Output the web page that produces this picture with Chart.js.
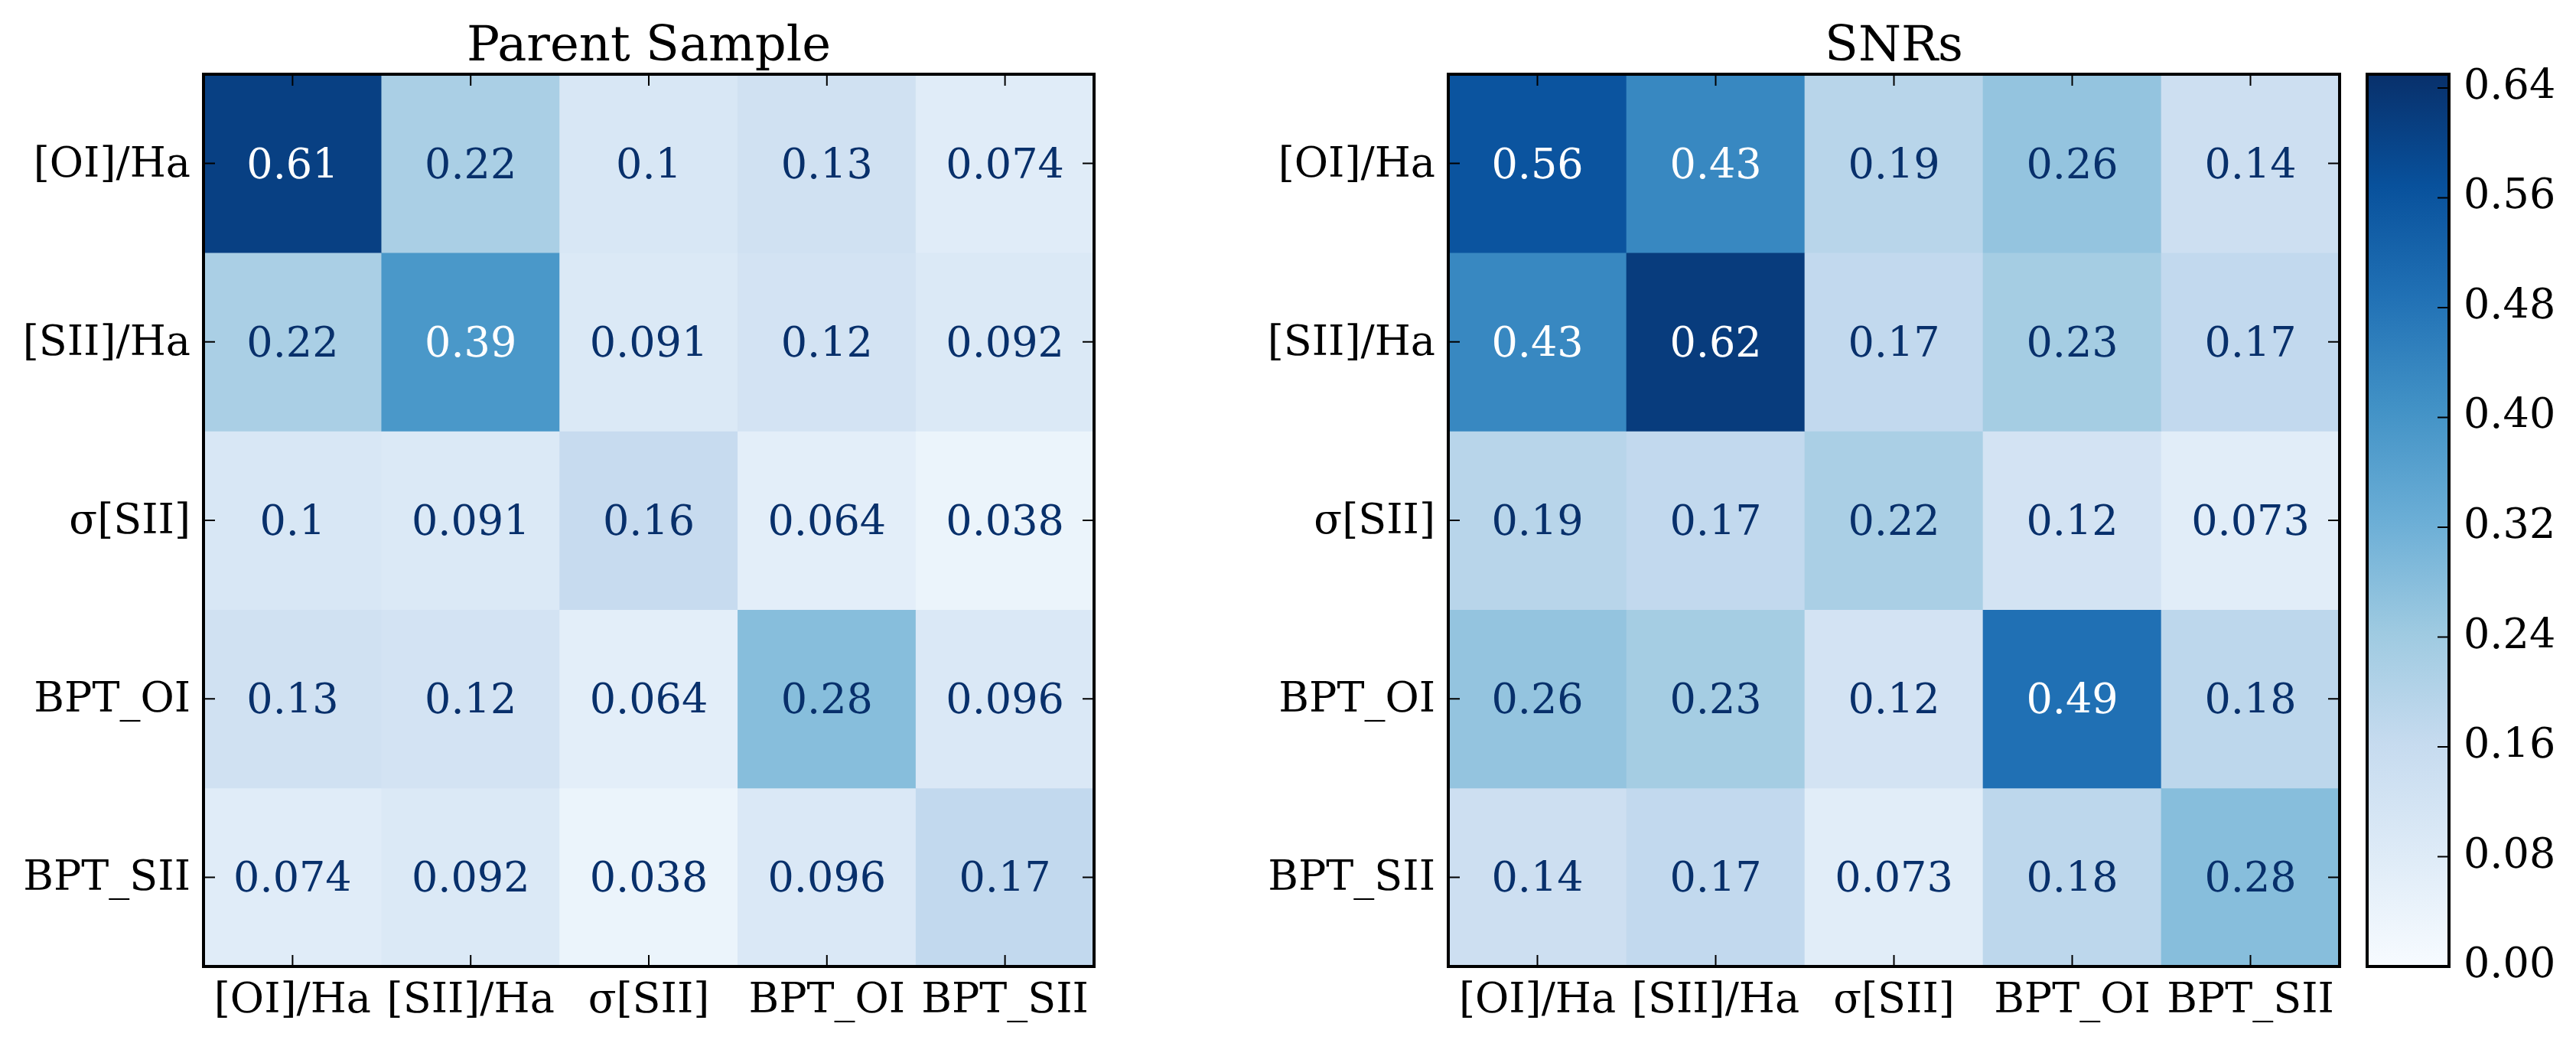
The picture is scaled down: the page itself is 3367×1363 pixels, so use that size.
<!DOCTYPE html>
<html>
<head>
<meta charset="utf-8">
<script src="https://cdn.jsdelivr.net/npm/chart.js@4.4.1/dist/chart.umd.min.js"></script>
<style>
  body { margin: 0; background: #fff; }
  #wrap { position: relative; width: 3367px; height: 1363px; background: #fff; }
  .box { position: absolute; top: 0; height: 1363px; }
</style>
</head>
<body>
<div id="wrap">
  <div class="box" style="left:0px;width:1696px"><canvas id="grafica1"></canvas></div>
  <div class="box" style="left:1600px;width:1751px"><canvas id="grafica2"></canvas></div>
  <div class="box" style="left:3000px;width:367px"><canvas id="barra"></canvas></div>
</div>
<script>
// etiquetas de filas y columnas
var etiquetas = ['[OI]/Ha', '[SII]/Ha', 'σ[SII]', 'BPT_OI', 'BPT_SII'];

// valores de la muestra padre
var padre0 = [0.61, 0.22, 0.1, 0.13, 0.074];
var padre1 = [0.22, 0.39, 0.091, 0.12, 0.092];
var padre2 = [0.1, 0.091, 0.16, 0.064, 0.038];
var padre3 = [0.13, 0.12, 0.064, 0.28, 0.096];
var padre4 = [0.074, 0.092, 0.038, 0.096, 0.17];

// valores de los SNRs
var snr0 = [0.56, 0.43, 0.19, 0.26, 0.14];
var snr1 = [0.43, 0.62, 0.17, 0.23, 0.17];
var snr2 = [0.19, 0.17, 0.22, 0.12, 0.073];
var snr3 = [0.26, 0.23, 0.12, 0.49, 0.18];
var snr4 = [0.14, 0.17, 0.073, 0.18, 0.28];

// barra de color
var vmin = 0, vmax = 0.65;
var ticksBarra = [0, 0.08, 0.16, 0.24, 0.32, 0.40, 0.48, 0.56, 0.64];

var fuente = "'DejaVu Serif', serif";
var azules = ['#f7fbff', '#deebf7', '#c6dbef', '#9ecae1', '#6baed6', '#4292c6', '#2171b5', '#08519c', '#08306b'];

function hexRgb(h) {
    return [parseInt(h.substr(1, 2), 16), parseInt(h.substr(3, 2), 16), parseInt(h.substr(5, 2), 16)];
}

function colorAzul(v) {
    var t = (v - vmin) / (vmax - vmin);
    t = Math.max(0, Math.min(1, t));
    var s = t * 8;
    var i = Math.min(7, Math.floor(s));
    var f = s - i;
    var a = hexRgb(azules[i]), b = hexRgb(azules[i + 1]);
    return 'rgb(' + Math.round(a[0] + (b[0] - a[0]) * f) + ',' + Math.round(a[1] + (b[1] - a[1]) * f) + ',' + Math.round(a[2] + (b[2] - a[2]) * f) + ')';
}

// marco negro y ticks hacia adentro en los cuatro lados
var marco = {
    id: 'marco',
    afterDatasetsDraw: function(chart, args, opts) {
        var ctx = chart.ctx, a = chart.chartArea, len = 15;
        ctx.save();
        ctx.strokeStyle = '#000';
        ctx.lineWidth = 2;
        ctx.beginPath();
        if (opts.ejes) {
            var sx = chart.scales.x;
            sx.ticks.forEach(function(t, i) {
                var px = sx.getPixelForTick(i);
                ctx.moveTo(px, a.top); ctx.lineTo(px, a.top + len);
                ctx.moveTo(px, a.bottom); ctx.lineTo(px, a.bottom - len);
            });
        }
        var sy = chart.scales.y;
        sy.ticks.forEach(function(t) {
            var py = sy.getPixelForValue(t.value);
            if (opts.ejes) { ctx.moveTo(a.left, py); ctx.lineTo(a.left + len, py); }
            ctx.moveTo(a.right, py); ctx.lineTo(a.right - len, py);
        });
        ctx.stroke();
        ctx.lineWidth = 4;
        ctx.strokeRect(a.left, a.top, a.right - a.left, a.bottom - a.top);
        ctx.restore();
    }
};

// numeros dentro de cada celda
var textoCeldas = {
    id: 'textoCeldas',
    afterDatasetsDraw: function(chart) {
        var ctx = chart.ctx;
        ctx.save();
        ctx.font = '54px ' + fuente;
        ctx.textAlign = 'center';
        ctx.textBaseline = 'alphabetic';
        chart.data.datasets.forEach(function(ds, i) {
            if (!ds.valores) return;
            chart.getDatasetMeta(i).data.forEach(function(el, j) {
                var p = el.getCenterPoint();
                var v = ds.valores[j];
                ctx.fillStyle = (v - vmin) / (vmax - vmin) > 0.5 ? '#ffffff' : '#08306b';
                ctx.fillText(String(v), p.x, p.y + 19);
            });
        });
        ctx.restore();
    }
};

function matriz(id, titulo, filas, ancho) {
    var datasets = filas.map(function(fila, i) {
        return {
            label: etiquetas[i],
            valores: fila,
            data: fila.map(function() { return [i - 0.5, i + 0.5]; }),
            backgroundColor: fila.map(colorAzul),
            borderWidth: 0,
            barPercentage: 1,
            categoryPercentage: 1,
            grouped: false
        };
    });

    return new Chart(document.getElementById(id).getContext('2d'), {
        type: 'bar',
        data: { labels: etiquetas, datasets: datasets },
        plugins: [textoCeldas, marco],
        options: {
            responsive: true,
            maintainAspectRatio: false,
            devicePixelRatio: 1,
            animation: false,
            layout: { padding: 0 },
            plugins: {
                legend: { display: false },
                tooltip: { enabled: false },
                title: {
                    display: true,
                    text: titulo,
                    color: '#000',
                    font: { family: fuente, size: 64, weight: 'normal', lineHeight: 1 },
                    padding: { top: 30, bottom: 3 }
                },
                marco: { ejes: true }
            },
            scales: {
                x: {
                    grid: { display: false, drawTicks: false },
                    border: { display: false },
                    ticks: { color: '#000', font: { family: fuente, size: 54 }, padding: 14, maxRotation: 0, autoSkip: false },
                    afterFit: function(s) { s.height = 100; }
                },
                y: {
                    type: 'linear',
                    min: -0.5,
                    max: 4.5,
                    reverse: true,
                    grid: { display: false, drawTicks: false },
                    border: { display: false },
                    afterBuildTicks: function(s) { s.ticks = [0, 1, 2, 3, 4].map(function(v) { return { value: v }; }); },
                    ticks: {
                        color: '#000',
                        font: { family: fuente, size: 54 },
                        padding: 17,
                        labelOffset: 3,
                        autoSkip: false,
                        callback: function(v) { return etiquetas[v]; }
                    },
                    afterFit: function(s) { s.width = ancho; }
                },
                // eje derecho vacio, solo para centrar el titulo sobre la matriz
                y2: {
                    type: 'linear',
                    position: 'right',
                    min: -0.5,
                    max: 4.5,
                    grid: { display: false, drawTicks: false },
                    border: { display: false },
                    ticks: { display: false },
                    afterFit: function(s) { s.width = ancho; }
                }
            }
        }
    });
}

matriz('grafica1', 'Parent Sample', [padre0, padre1, padre2, padre3, padre4], 266);
matriz('grafica2', 'SNRs', [snr0, snr1, snr2, snr3, snr4], 293);

// barra de color
new Chart(document.getElementById('barra').getContext('2d'), {
    type: 'bar',
    data: {
        labels: [''],
        datasets: [{
            data: [[vmin, vmax]],
            borderWidth: 0,
            barPercentage: 1,
            categoryPercentage: 1,
            backgroundColor: function(c) {
                var a = c.chart.chartArea;
                if (!a) return azules[4];
                var g = c.chart.ctx.createLinearGradient(0, a.bottom, 0, a.top);
                azules.forEach(function(col, i) { g.addColorStop(i / 8, col); });
                return g;
            }
        }]
    },
    plugins: [marco],
    options: {
        responsive: true,
        maintainAspectRatio: false,
        devicePixelRatio: 1,
        animation: false,
        layout: { padding: { left: 94, right: 0, top: 97, bottom: 100 } },
        plugins: {
            legend: { display: false },
            tooltip: { enabled: false },
            marco: { ejes: false }
        },
        scales: {
            x: { display: false },
            y: {
                position: 'right',
                min: vmin,
                max: vmax,
                grid: { display: false, drawTicks: false },
                border: { display: false },
                afterBuildTicks: function(s) { s.ticks = ticksBarra.map(function(v) { return { value: v }; }); },
                ticks: {
                    color: '#000',
                    font: { family: fuente, size: 54 },
                    padding: 19,
                    callback: function(v) { return Number(v).toFixed(2); }
                },
                afterFit: function(s) { s.width = 166; }
            }
        }
    }
});
</script>
</body>
</html>
